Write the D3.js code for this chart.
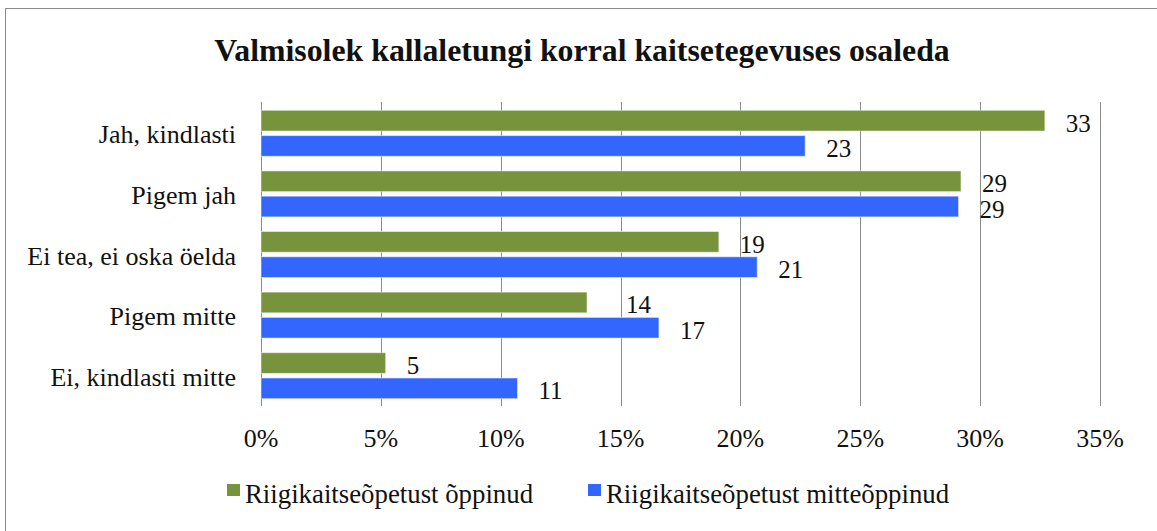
<!DOCTYPE html>
<html>
<head>
<meta charset="utf-8">
<script src="https://cdn.jsdelivr.net/npm/d3@7/dist/d3.min.js"></script>
<style>
  html, body { margin: 0; padding: 0; background: #fff; }
  svg { display: block; }
  text { font-family: "Liberation Serif", "Times New Roman", "DejaVu Serif", serif; fill: #111; }
</style>
</head>
<body>
<svg id="chart" width="1157" height="531"></svg>
<script>
const title = "Valmisolek kallaletungi korral kaitsetegevuses osaleda";
const categories = ["Jah, kindlasti", "Pigem jah", "Ei tea, ei oska öelda", "Pigem mitte", "Ei, kindlasti mitte"];
const seriesNames = ["Riigikaitseõpetust õppinud", "Riigikaitseõpetust mitteõppinud"];
const seriesColors = ["#77933C", "#3366FF"];
const studied = [32.7, 29.2, 19.1, 13.6, 5.2];
const notStudied = [22.7, 29.1, 20.7, 16.6, 10.7];
const xTicks = [0, 5, 10, 15, 20, 25, 30, 35];

const seriesValues = [studied, notStudied];

const svg = d3.select("#chart");

// outer frame
svg.append("rect")
  .attr("x", 5.5).attr("y", 8.5)
  .attr("width", 1300).attr("height", 700)
  .attr("fill", "none").attr("stroke", "#8a8a8a").attr("stroke-width", 1);

// title
svg.append("text")
  .attr("x", 582).attr("y", 61)
  .attr("text-anchor", "middle")
  .style("font-size", "31.8px").style("font-weight", "bold")
  .text(title);

const x = d3.scaleLinear().domain([0, 35]).range([261, 1100]);
const y = d3.scaleBand().domain(categories).range([103, 406]).paddingInner(0).paddingOuter(0);
const groupH = 46;
const ySub = d3.scaleBand().domain(seriesNames).range([0, groupH]).paddingInner(0.18).paddingOuter(0);
const groupOffset = (y.bandwidth() - groupH) / 2;

// gridlines (extending below as tick marks)
svg.append("g").selectAll("line").data(xTicks).join("line")
  .attr("x1", d => Math.round(x(d)) + 0.5).attr("x2", d => Math.round(x(d)) + 0.5)
  .attr("y1", 102).attr("y2", 406)
  .attr("stroke", "#8c8c8c").attr("stroke-width", 1);

// x tick labels
svg.append("g").selectAll("text").data(xTicks).join("text")
  .attr("x", d => x(d)).attr("y", 447)
  .attr("text-anchor", "middle")
  .style("font-size", "26px")
  .text(d => d + "%");

// category labels
svg.append("g").selectAll("text").data(categories).join("text")
  .attr("x", 236)
  .attr("y", d => y(d) + y.bandwidth() / 2 + 10)
  .attr("text-anchor", "end")
  .style("font-size", "26px")
  .text(d => d);

// bars
const fmt = d3.format(".0f");
// the "14" label was moved right of the 15% gridline in the original
const labelShift = (si, i) => (si === 0 && i === 3 ? 18 : 0);
seriesNames.forEach((s, si) => {
  const g = svg.append("g");
  const vals = seriesValues[si];
  g.selectAll("rect").data(categories).join("rect")
    .attr("x", x(0))
    .attr("y", d => y(d) + groupOffset + ySub(s))
    .attr("width", (d, i) => x(vals[i]) - x(0))
    .attr("height", ySub.bandwidth())
    .attr("fill", seriesColors[si])
    .attr("stroke", "rgba(255,255,255,0.5)")
    .attr("stroke-width", 1);
  g.selectAll("text").data(categories).join("text")
    .attr("x", (d, i) => x(vals[i]) + 21 + labelShift(si, i))
    .attr("y", d => y(d) + groupOffset + ySub(s) + ySub.bandwidth() / 2 + 11)
    .style("font-size", "25px")
    .text((d, i) => fmt(vals[i]));
});

// legend
const legendX = [227, 588];
const legend = svg.append("g");
seriesNames.forEach((s, si) => {
  legend.append("rect")
    .attr("x", legendX[si]).attr("y", 484)
    .attr("width", 13).attr("height", 12)
    .attr("fill", seriesColors[si]);
  legend.append("text")
    .attr("x", legendX[si] + 18).attr("y", 503)
    .style("font-size", "26.8px")
    .text(s);
});
</script>
</body>
</html>
